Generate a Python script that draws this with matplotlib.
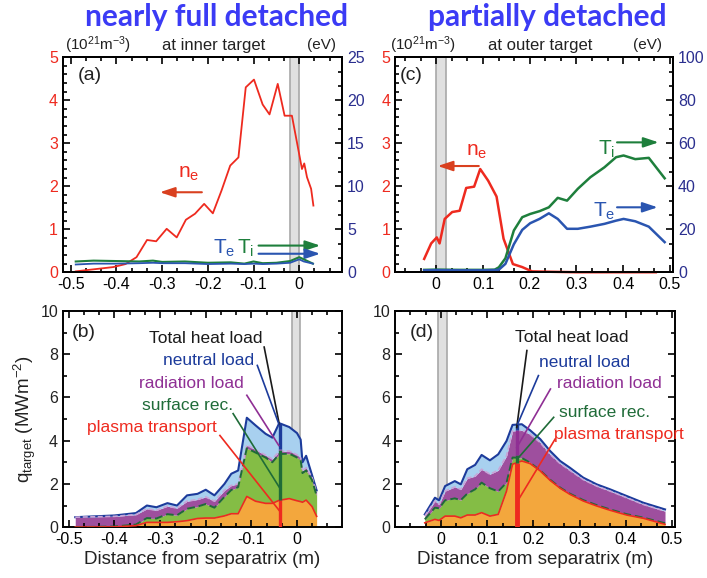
#Recreation of target n_e / T and heat load profiles
#inner target (nearly full detached) vs outer target (partially detached)
import numpy as np
import matplotlib as mpl
mpl.use('Agg')
import matplotlib.pyplot as plt
from matplotlib.ticker import MultipleLocator, AutoMinorLocator

mpl.rcParams['font.family'] = ['Liberation Sans', 'DejaVu Sans']
mpl.rcParams['mathtext.default'] = 'regular'

RED = '#ee2a1f'
NAVY = '#2b2f8f'
GREEN = '#1e7f3c'
BLUE = '#2a55b0'
TITLE_BLUE = '#3b3bf5'

#%%
# (a) inner target, n_e and temperatures
x_ne_a = [-0.489, -0.407, -0.380, -0.356, -0.333, -0.313, -0.290, -0.268, -0.248,
          -0.228, -0.208, -0.189, -0.170, -0.151, -0.133, -0.117, -0.099, -0.080,
          -0.065, -0.047, -0.032, -0.016, -0.003, 0.006, 0.011, 0.017, 0.026, 0.031]
ne_a = [0.02, 0.12, 0.19, 0.35, 0.75, 0.72, 1.01, 0.81, 1.22,
        1.36, 1.59, 1.37, 1.90, 2.48, 2.67, 4.30, 4.48, 3.90,
        3.67, 4.38, 3.64, 3.64, 2.91, 2.40, 2.53, 2.21, 1.94, 1.55]
x_T_a = [-0.489, -0.45, -0.40, -0.35, -0.32, -0.30, -0.25, -0.20, -0.15,
         -0.12, -0.10, -0.08, -0.05, -0.02, 0.0, 0.01, 0.03]
Ti_a = [1.25, 1.35, 1.3, 1.25, 1.35, 1.2, 1.25, 1.1, 1.15,
        1.0, 1.25, 1.05, 1.1, 1.3, 1.75, 1.5, 1.0]
Te_a = [0.9, 1.0, 1.0, 1.05, 1.1, 1.05, 1.05, 0.95, 1.0,
        0.95, 1.0, 0.95, 1.0, 1.1, 1.5, 1.25, 1.0]

# (c) outer target, n_e and temperatures
x_ne_c = [-0.026, -0.011, 0.001, 0.007, 0.018, 0.034, 0.050, 0.064, 0.081, 0.094,
          0.111, 0.129, 0.144, 0.164, 0.184, 0.205, 0.25, 0.30, 0.35, 0.40, 0.47]
ne_c = [0.31, 0.67, 0.81, 0.67, 1.24, 1.40, 1.43, 1.96, 1.99, 2.40,
        2.13, 1.76, 0.78, 0.19, 0.12, 0.02, 0.01, 0.0, 0.0, 0.0, 0.0]
x_T_c = [-0.026, 0.0, 0.05, 0.10, 0.125, 0.134, 0.148, 0.166, 0.184, 0.201, 0.221,
         0.241, 0.26, 0.28, 0.303, 0.33, 0.36, 0.385, 0.401, 0.426, 0.455, 0.489]
Ti_c = [1.1, 1.2, 1.1, 1.1, 1.2, 2.3, 6.5, 19.4, 25.6, 27.1, 28.4,
        30.2, 34.6, 33.3, 38.8, 44.2, 48.8, 53.5, 54.3, 52.6, 53.2, 43.7]
Te_c = [0.9, 1.0, 0.9, 0.9, 1.0, 1.2, 3.9, 13.0, 19.7, 22.8, 24.8,
        27.4, 24.8, 20.2, 20.2, 21.2, 22.5, 24.0, 24.8, 23.7, 21.2, 14.0]

# (b) inner target heat load, cumulative layers
x_b = [-0.486, -0.40, -0.353, -0.329, -0.308, -0.284, -0.263, -0.241, -0.218,
       -0.200, -0.181, -0.159, -0.144, -0.129, -0.110, -0.091, -0.069, -0.054,
       -0.039, -0.017, 0.000, 0.008, 0.012, 0.020, 0.033, 0.043]
plasma_b = [0.00, 0.01, 0.07, 0.22, 0.22, 0.22, 0.25, 0.30, 0.40, 0.42, 0.42, 0.52, 0.62,
            0.62, 1.42, 1.20, 1.10, 1.10, 1.24, 1.32, 1.22, 1.18, 1.15, 1.25, 0.95, 0.50]
surf_b = [0.00, 0.03, 0.12, 0.42, 0.40, 0.60, 0.55, 0.85, 0.95, 1.07, 0.90, 1.40, 1.72,
          1.85, 3.65, 3.45, 3.22, 3.00, 3.38, 3.40, 3.22, 3.10, 2.50, 2.62, 2.18, 1.45]
rad_b = [0.46, 0.50, 0.58, 0.85, 0.78, 0.97, 0.88, 1.20, 1.28, 1.40, 1.20, 1.70, 1.93,
         2.00, 3.80, 3.58, 3.33, 3.15, 3.50, 3.52, 3.35, 3.20, 2.60, 2.75, 2.30, 1.60]
total_b = [0.46, 0.54, 0.65, 1.00, 0.92, 1.11, 1.00, 1.47, 1.54, 1.73, 1.47, 2.00, 2.47,
           2.62, 5.06, 4.71, 4.32, 4.14, 4.81, 4.63, 4.35, 4.05, 3.00, 3.30, 2.40, 1.70]
bar_x_b = -0.037
bar_b = [1.25, 3.55, 3.62, 4.80]

# (d) outer target heat load, cumulative layers
x_d = [-0.035, -0.013, -0.004, 0.009, 0.030, 0.043, 0.057, 0.074, 0.088, 0.106, 0.124,
       0.142, 0.155, 0.175, 0.193, 0.215, 0.236, 0.258, 0.279, 0.308, 0.337, 0.366,
       0.402, 0.438, 0.485]
plasma_d = [0.20, 0.36, 0.31, 0.51, 0.51, 0.43, 0.56, 0.56, 0.67, 0.51, 0.59, 1.67, 2.91,
            3.06, 2.94, 2.60, 2.17, 1.80, 1.52, 1.21, 0.98, 0.78, 0.56, 0.41, 0.13]
surf_d = [0.36, 0.90, 0.87, 1.24, 1.33, 1.25, 1.55, 1.75, 2.06, 1.80, 1.65, 2.06, 3.22,
          3.20, 2.98, 2.62, 2.20, 1.83, 1.55, 1.25, 1.02, 0.82, 0.60, 0.44, 0.18]
rad_d = [0.51, 1.21, 1.05, 1.67, 1.86, 1.75, 2.26, 2.36, 2.68, 2.45, 2.63, 3.30, 4.45,
         4.48, 4.30, 3.91, 3.37, 2.94, 2.63, 2.20, 1.90, 1.67, 1.36, 1.05, 0.74]
total_d = [0.59, 1.36, 1.24, 1.90, 2.13, 1.98, 2.68, 2.88, 3.34, 3.09, 3.37, 3.99, 4.73,
           4.76, 4.48, 4.07, 3.53, 3.06, 2.75, 2.29, 1.98, 1.75, 1.44, 1.13, 0.82]
bar_x_d = 0.164
bar_d = [2.95, 3.35, 4.50, 4.78]

print("data ready")

#%%
fig = plt.figure(figsize=(7.07, 5.78), dpi=100)
ax_a = fig.add_axes([0.089, 0.529, 0.395, 0.372])
ax_c = fig.add_axes([0.559, 0.529, 0.393, 0.372])
ax_b = fig.add_axes([0.089, 0.088, 0.395, 0.374])
ax_d = fig.add_axes([0.559, 0.088, 0.396, 0.374])

def style_axis(ax, ycol='#222222'):
    for s in ax.spines.values():
        s.set_linewidth(1.4)
    ax.tick_params(which='both', direction='in', width=1.2, labelsize=11.5)
    ax.tick_params(which='major', length=5)
    ax.tick_params(which='minor', length=3)
    ax.tick_params(axis='y', colors=ycol, which='both')
    ax.tick_params(axis='y', color='k', which='both')
    ax.xaxis.set_major_locator(MultipleLocator(0.1))
    ax.xaxis.set_minor_locator(AutoMinorLocator(3))

def fmt_x(v, pos):
    return '0' if abs(v) < 1e-9 else ('%.1f' % v)

def sep_band(ax, x0, x1):
    ax.axvspan(x0, x1, color='#d9d9d9', alpha=0.8, zorder=0.5, lw=0)
    ax.axvline(x0, color='#a8a8a8', lw=1.2, zorder=0.6)
    ax.axvline(x1, color='#a8a8a8', lw=1.2, zorder=0.6)

arrow = lambda c: dict(arrowstyle='-|>,head_length=0.9,head_width=0.3', color=c, lw=1.5,
                       shrinkA=0, shrinkB=0)

#%%
# top panels
for ax, xl, band in [(ax_a, (-0.517, 0.094), (-0.02, 0.0)),
                     (ax_c, (-0.088, 0.507), (0.0, 0.021))]:
    style_axis(ax, RED)
    ax.set_xlim(*xl)
    ax.set_ylim(0, 5)
    ax.yaxis.set_major_locator(MultipleLocator(1))
    ax.yaxis.set_minor_locator(AutoMinorLocator(5))
    ax.tick_params(top=True, bottom=True, which='both')
    ax.xaxis.set_major_formatter(fmt_x)
    sep_band(ax, *band)

tw_a = ax_a.twinx()
tw_c = ax_c.twinx()
for tw, tmax, tstep in [(tw_a, 25, 5), (tw_c, 100, 20)]:
    tw.set_ylim(0, tmax)
    tw.yaxis.set_major_locator(MultipleLocator(tstep))
    tw.yaxis.set_minor_locator(AutoMinorLocator(3))
    tw.tick_params(which='both', direction='in', width=1.2, labelsize=11.5, labelcolor=NAVY)
    tw.tick_params(which='major', length=5)
    tw.tick_params(which='minor', length=3)
    for s in tw.spines.values():
        s.set_linewidth(1.4)

ax_a.plot(x_ne_a, ne_a, color=RED, lw=1.3, zorder=3)
tw_a.plot(x_T_a, Ti_a, color=GREEN, lw=1.5)
tw_a.plot(x_T_a, Te_a, color=BLUE, lw=1.3)
ax_c.plot(x_ne_c, ne_c, color=RED, lw=1.8, zorder=3, clip_on=False)
tw_c.plot(x_T_c, Ti_c, color=GREEN, lw=1.8)
tw_c.plot(x_T_c, Te_c, color=BLUE, lw=1.8)

ax_a.text(-0.458, 4.57, '(a)', fontsize=14, ha='center', va='center', color='#222222')
ax_a.text(-0.243, 2.3, r'n$_{e}$', fontsize=15, color=RED, ha='center', va='center')
ax_a.annotate('', xy=(-0.305, 1.86), xytext=(-0.213, 1.86), arrowprops=arrow('#d9401f'))
ax_a.text(-0.164, 0.55, r'T$_{e}$', fontsize=15, color=BLUE, ha='center', va='center')
ax_a.text(-0.117, 0.55, r'T$_{i}$', fontsize=15, color=GREEN, ha='center', va='center')
ax_a.annotate('', xy=(0.046, 0.62), xytext=(-0.089, 0.62), arrowprops=arrow(GREEN))
ax_a.annotate('', xy=(0.046, 0.43), xytext=(-0.089, 0.43), arrowprops=arrow(BLUE))

ax_c.text(-0.054, 4.57, '(c)', fontsize=14, ha='center', va='center', color='#222222')
ax_c.text(0.086, 2.8, r'n$_{e}$', fontsize=15, color=RED, ha='center', va='center')
ax_c.annotate('', xy=(0.003, 2.47), xytext=(0.091, 2.47), arrowprops=arrow('#d9401f'))
ax_c.text(0.364, 2.85, r'T$_{i}$', fontsize=15, color=GREEN, ha='center', va='center')
ax_c.annotate('', xy=(0.476, 3.02), xytext=(0.387, 3.02), arrowprops=arrow(GREEN))
ax_c.text(0.359, 1.42, r'T$_{e}$', fontsize=15, color=BLUE, ha='center', va='center')
ax_c.annotate('', xy=(0.474, 1.51), xytext=(0.387, 1.51), arrowprops=arrow(BLUE))

#%%
# heat load panels
ORANGE_F = '#f3a73d'
GREEN_F = '#84bd45'
PURPLE_F = '#9e4f9e'
LBLUE_F = '#a8d0ef'
DGREEN = '#1f6b38'
PURPLE = '#8f2f94'
DBLUE = '#1c3b9b'

def heat_panel(ax, x, pl, sf, rd, tot, bar_x, bar, xl, band, lw_bar):
    style_axis(ax)
    ax.tick_params(top=True, right=True, which='both')
    ax.set_xlim(*xl)
    ax.set_ylim(0, 10)
    ax.yaxis.set_major_locator(MultipleLocator(2))
    ax.yaxis.set_minor_locator(AutoMinorLocator(2))
    ax.xaxis.set_major_formatter(fmt_x)
    ax.fill_between(x, 0, pl, color=ORANGE_F, lw=0, zorder=1)
    ax.fill_between(x, pl, sf, color=GREEN_F, lw=0, zorder=1)
    ax.fill_between(x, sf, rd, color=PURPLE_F, lw=0, zorder=1)
    ax.fill_between(x, rd, tot, color=LBLUE_F, lw=0, zorder=1)
    sep_band(ax, *band)
    ax.plot(x, tot, color=DBLUE, lw=1.5, zorder=3)
    ax.plot(x, rd, color='#c8a4d8', lw=1.2, ls=(0, (3, 1.5)), zorder=3)
    ax.plot(x, sf, color=DGREEN, lw=1.4, ls=(0, (4, 2)), zorder=3)
    ax.plot(x, pl, color=RED, lw=1.2, zorder=3)
    # stacked marker at the peak
    ax.plot([bar_x, bar_x], [0, bar[0]], color=RED, lw=lw_bar, zorder=4, solid_capstyle='butt')
    ax.plot([bar_x, bar_x], [bar[0], bar[1]], color=DGREEN, lw=2.4, zorder=4, solid_capstyle='butt')
    ax.plot([bar_x, bar_x], [bar[1], bar[2]], color=PURPLE, lw=2.4, zorder=4, solid_capstyle='butt')
    ax.plot([bar_x, bar_x], [bar[2], bar[3]], color=DBLUE, lw=2.4, zorder=4, solid_capstyle='butt')
    ax.set_xlabel('Distance from separatrix (m)', fontsize=13.5, color='#222222', labelpad=3)

heat_panel(ax_b, x_b, plasma_b, surf_b, rad_b, total_b, bar_x_b, bar_b,
           (-0.513, 0.099), (-0.011, 0.007), 2.4)
heat_panel(ax_d, x_d, plasma_d, surf_d, rad_d, total_d, bar_x_d, bar_d,
           (-0.099, 0.507), (-0.007, 0.014), 3.5)
ax_b.set_ylabel(r'q$_{target}$ (MWm$^{-2}$)', fontsize=13.5, color='#222222', labelpad=2)

labels = ['Total heat load', 'neutral load', 'radiation load', 'surface rec.', 'plasma transport']
lab_cols = ['#1a1a1a', DBLUE, PURPLE, DGREEN, RED]

lab_b = [(-0.199, 8.72), (-0.194, 7.72), (-0.231, 6.64), (-0.239, 5.63), (-0.317, 4.63)]
lines_b = [((-0.072, 8.33), (-0.039, 4.78)), ((-0.087, 7.48), (-0.040, 4.78)),
           ((-0.110, 6.10), (-0.040, 3.78)), ((-0.140, 5.25), (-0.039, 1.85)),
           ((-0.169, 4.24), (-0.039, 0.77))]
lab_d = [(0.284, 8.79), (0.310, 7.63), (0.364, 6.63), (0.354, 5.31), (0.386, 4.30)]
lines_d = [((0.186, 8.17), (0.164, 4.61)), ((0.211, 7.01), (0.166, 4.77)),
           ((0.237, 6.39), (0.164, 3.68)), ((0.244, 5.08), (0.168, 3.22)),
           ((0.247, 4.07), (0.168, 1.28))]

for ax, labs, lns in [(ax_b, lab_b, lines_b), (ax_d, lab_d, lines_d)]:
    for txt, col, (tx, ty), (p0, p1) in zip(labels, lab_cols, labs, lns):
        ax.text(tx, ty, txt, fontsize=12.5, color=col, ha='center', va='center', zorder=6)
        ax.plot([p0[0], p1[0]], [p0[1], p1[1]], color=col, lw=1.2, zorder=5)

ax_b.text(-0.468, 9.0, '(b)', fontsize=14, ha='center', va='center', color='#222222')
ax_d.text(-0.041, 9.0, '(d)', fontsize=14, ha='center', va='center', color='#222222')

#%%
# headers
fig.text(0.307, 0.971, 'nearly full detached', fontsize=21.5, fontweight='bold',
         family=['Lato', 'DejaVu Sans'], color=TITLE_BLUE, ha='center', va='center')
fig.text(0.774, 0.971, 'partially detached', fontsize=21.5, fontweight='bold',
         family=['Lato', 'DejaVu Sans'], color=TITLE_BLUE, ha='center', va='center')
for xu, xt, xe, t in [(0.139, 0.302, 0.455, 'at inner target'),
                      (0.598, 0.764, 0.916, 'at outer target')]:
    fig.text(xu, 0.922, r'(10$^{21}$m$^{-3}$)', fontsize=11, color='#222222', ha='center', va='center')
    fig.text(xt, 0.922, t, fontsize=12, color='#222222', ha='center', va='center')
    fig.text(xe, 0.922, '(eV)', fontsize=11, color='#222222', ha='center', va='center')

plt.savefig('out.png', dpi=100)
